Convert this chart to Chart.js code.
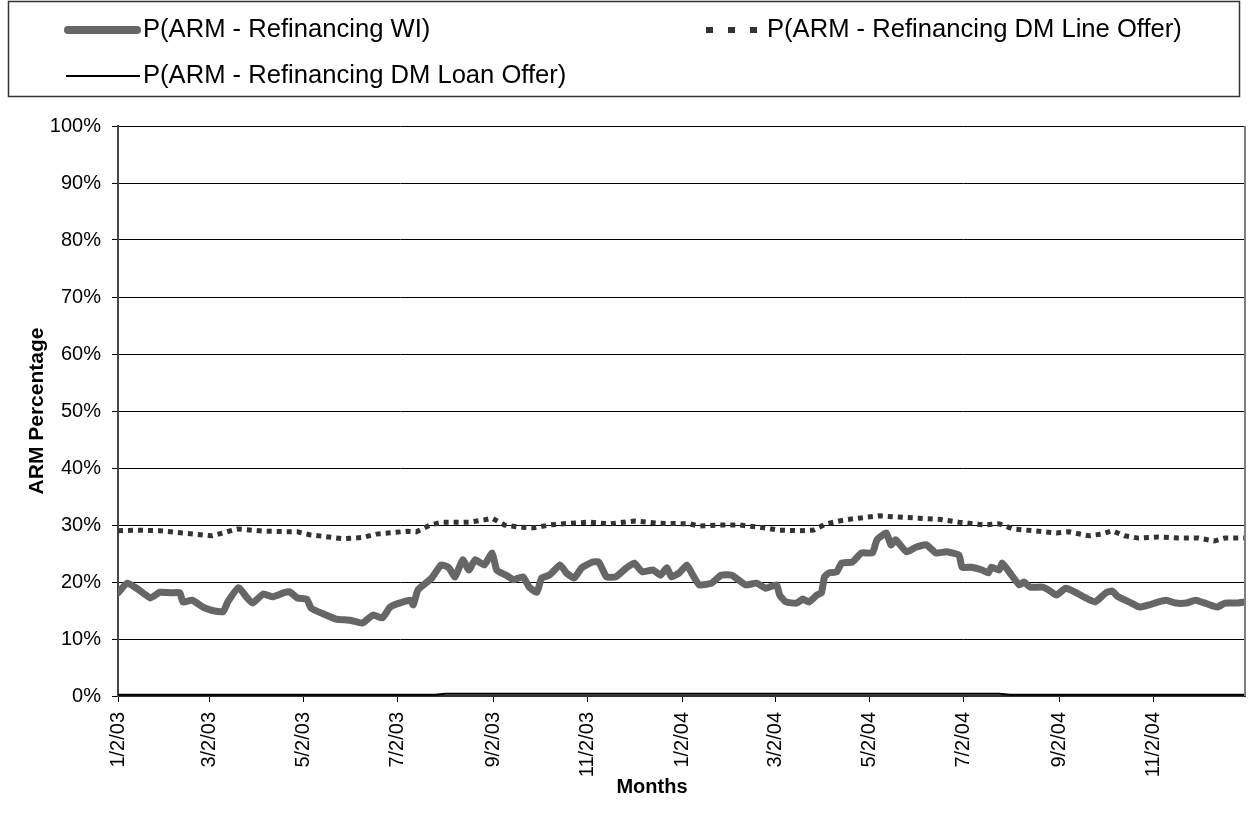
<!DOCTYPE html>
<html>
<head>
<meta charset="utf-8">
<script src="https://cdn.jsdelivr.net/npm/chart.js@4.4.0/dist/chart.umd.min.js"></script>
<style>
  html, body { margin: 0; padding: 0; background: #fff; }
  #wrap { width: 1249px; height: 827px; }
</style>
</head>
<body>
<div id="wrap"><canvas id="armChart" width="1249" height="827"></canvas></div>
<script>
// x values are days counted from 1/2/03
const tickLabels = ['1/2/03', '3/2/03', '5/2/03', '7/2/03', '9/2/03', '11/2/03',
                    '1/2/04', '3/2/04', '5/2/04', '7/2/04', '9/2/04', '11/2/04'];
const lastDate = '12/31/04';

const seriesNames = ['P(ARM - Refinancing WI)', 'P(ARM - Refinancing DM Line Offer)', 'P(ARM - Refinancing DM Loan Offer)'];

const wiDays = [0, 6, 12, 21, 27, 34, 40, 42, 48, 55, 61, 68, 71, 78, 83, 87, 94, 100, 107, 111,
  116, 122, 125, 132, 141, 150, 158, 165, 171, 176, 182, 189, 191, 194, 200, 203, 209, 214, 218, 223,
  227, 231, 237, 242, 245, 251, 256, 262, 266, 271, 274, 279, 286, 290, 295, 300, 307, 311, 316, 322,
  329, 334, 339, 346, 351, 355, 358, 363, 368, 371, 376, 384, 390, 397, 406, 413, 419, 426, 428, 432,
  439, 443, 447, 452, 455, 457, 460, 465, 468, 475, 481, 488, 491, 497, 500, 503, 510, 516, 523, 529,
  536, 544, 546, 552, 559, 563, 565, 570, 572, 578, 583, 586, 590, 598, 602, 607, 613, 620, 626, 632,
  639, 643, 647, 654, 661, 667, 673, 678, 684, 691, 697, 703, 711, 716, 723, 729];
const wiValues = [18.1, 19.8, 18.9, 17.2, 18.2, 18.1, 18.1, 16.5, 16.8, 15.6, 15.0, 14.8, 16.5, 19.0, 17.4, 16.3, 17.9, 17.4, 18.1, 18.3,
  17.2, 17.0, 15.4, 14.5, 13.5, 13.3, 12.8, 14.2, 13.7, 15.6, 16.3, 16.8, 16.0, 18.6, 20.0, 20.7, 23.0, 22.5, 20.9, 23.9,
  22.1, 23.9, 23.0, 25.1, 22.1, 21.2, 20.4, 20.9, 19.1, 18.2, 20.7, 21.2, 23.0, 21.6, 20.7, 22.5, 23.5, 23.5, 20.9, 20.9,
  22.5, 23.3, 21.8, 22.1, 21.2, 22.5, 20.9, 21.6, 23.0, 21.6, 19.5, 19.8, 21.2, 21.2, 19.5, 19.8, 18.9, 19.5, 17.7, 16.5,
  16.3, 17.0, 16.5, 17.7, 18.1, 20.9, 21.6, 21.8, 23.3, 23.5, 25.1, 25.1, 27.4, 28.6, 26.5, 27.4, 25.3, 26.1, 26.5, 25.1,
  25.3, 24.7, 22.6, 22.6, 22.1, 21.6, 22.6, 22.1, 23.3, 21.2, 19.5, 20.0, 19.1, 19.1, 18.6, 17.7, 18.9, 18.1, 17.2, 16.5,
  18.1, 18.4, 17.4, 16.5, 15.6, 16.0, 16.5, 16.8, 16.3, 16.3, 16.8, 16.3, 15.6, 16.3, 16.3, 16.5];

const lineDays = [0, 12, 27, 42, 61, 77, 96, 116, 124, 145, 158, 167, 187, 193, 202, 210, 227, 237, 242, 250,
  260, 269, 279, 292, 305, 318, 334, 350, 370, 376, 389, 402, 415, 428, 441, 450, 458, 470, 479, 492,
  505, 518, 531, 544, 554, 560, 570, 579, 592, 607, 615, 628, 636, 643, 651, 660, 673, 686, 699, 709, 716, 729];
const lineValues = [29.0, 29.1, 29.0, 28.6, 28.1, 29.3, 28.9, 28.8, 28.3, 27.6, 27.8, 28.4, 28.9, 28.8, 30.0, 30.5, 30.5, 30.9, 31.2, 30.0,
  29.6, 29.5, 30.0, 30.3, 30.5, 30.2, 30.7, 30.3, 30.2, 29.8, 30.0, 30.0, 29.6, 29.1, 29.0, 29.1, 30.2, 30.9, 31.2, 31.6,
  31.4, 31.2, 31.0, 30.5, 30.2, 30.0, 30.2, 29.3, 29.0, 28.6, 28.8, 28.1, 28.4, 29.0, 28.1, 27.7, 27.9, 27.7, 27.7, 27.2, 27.7, 27.7];

const loanDays = [0, 205, 212, 570, 577, 729];
const loanValues = [0.2, 0.2, 0.4, 0.4, 0.2, 0.2];

const FONT = "'Liberation Sans', Arial, sans-serif";
const padLeft = 25;
const padBottom = 25;

function dayOf(label) {
    const [m, d, y] = label.split('/').map(Number);
    return Math.round((Date.UTC(2000 + y, m - 1, d) - Date.UTC(2003, 0, 2)) / 86400000);
}
const tickDays = tickLabels.map(dayOf);

function toPoints(days, values) {
    return days.map((d, i) => ({ x: d, y: values[i] }));
}

// legend box above the plot, x-axis title and right frame edge
const boxLegend = {
    id: 'boxLegend',
    afterDraw(chart) {
        const ctx = chart.ctx;
        const ds = chart.data.datasets;
        ctx.save();
        ctx.strokeStyle = '#333';
        ctx.lineWidth = 1.5;
        ctx.strokeRect(8.5, 1.5, 1231, 95);

        ctx.font = '25.6px ' + FONT;
        ctx.fillStyle = '#000';
        ctx.textBaseline = 'middle';

        // item 1: thick grey line
        ctx.strokeStyle = ds[0].borderColor;
        ctx.lineWidth = 8;
        ctx.lineCap = 'round';
        ctx.beginPath(); ctx.moveTo(68, 30); ctx.lineTo(137, 30); ctx.stroke();
        ctx.fillText(ds[0].label, 143, 30);

        // item 2: square dots
        ctx.fillStyle = ds[1].borderColor;
        [706, 728, 750].forEach(x => ctx.fillRect(x, 27, 7, 6));
        ctx.fillStyle = '#000';
        ctx.fillText(ds[1].label, 767, 30);

        // item 3: thin black line
        ctx.strokeStyle = ds[2].borderColor;
        ctx.lineWidth = 2;
        ctx.lineCap = 'butt';
        ctx.beginPath(); ctx.moveTo(66, 76); ctx.lineTo(140, 76); ctx.stroke();
        ctx.fillText(ds[2].label, 143, 76);

        // x-axis title
        ctx.font = 'bold 20px ' + FONT;
        ctx.textAlign = 'center';
        ctx.fillText('Months', 652, 787);

        // right edge of plot frame
        const a = chart.chartArea;
        ctx.strokeStyle = '#808080';
        ctx.lineWidth = 2;
        ctx.beginPath(); ctx.moveTo(a.right, a.top); ctx.lineTo(a.right, a.bottom); ctx.stroke();
        ctx.restore();
    }
};

new Chart(document.getElementById('armChart'), {
    type: 'line',
    data: {
        datasets: [
            {
                label: seriesNames[0],
                data: toPoints(wiDays, wiValues),
                borderColor: '#666666',
                borderWidth: 7,
                borderCapStyle: 'round',
                borderJoinStyle: 'round',
                pointRadius: 0,
                tension: 0.15
            },
            {
                label: seriesNames[1],
                data: toPoints(lineDays, lineValues),
                borderColor: '#333333',
                borderWidth: 5,
                borderDash: [5, 5],
                pointRadius: 0,
                tension: 0
            },
            {
                label: seriesNames[2],
                data: toPoints(loanDays, loanValues),
                borderColor: '#000000',
                borderWidth: 2,
                pointRadius: 0,
                tension: 0
            }
        ]
    },
    options: {
        responsive: false,
        animation: false,
        devicePixelRatio: 1,
        layout: { padding: { top: 126, left: padLeft, right: 4, bottom: padBottom } },
        plugins: {
            legend: { display: false },
            tooltip: { enabled: false }
        },
        scales: {
            x: {
                type: 'linear',
                min: 0,
                max: dayOf(lastDate),
                afterBuildTicks: s => { s.ticks = tickDays.map(v => ({ value: v })); },
                afterFit: s => { s.height = 827 - 696 - padBottom; },
                ticks: {
                    autoSkip: false,
                    minRotation: 90,
                    maxRotation: 90,
                    padding: 10,
                    color: '#000',
                    font: { family: FONT, size: 20 },
                    callback: (v, i) => tickLabels[i]
                },
                grid: { drawOnChartArea: false, drawTicks: true, tickLength: 6, color: '#000' },
                border: { display: true, color: '#333', width: 2 }
            },
            y: {
                min: 0,
                max: 100,
                afterFit: s => { s.width = 118 - padLeft; },
                ticks: {
                    stepSize: 10,
                    padding: 11,
                    color: '#000',
                    font: { family: FONT, size: 20 },
                    callback: v => v + '%'
                },
                grid: { color: '#000', lineWidth: 1, tickLength: 6 },
                border: { display: true, color: '#444', width: 2 },
                title: {
                    display: true,
                    text: 'ARM Percentage',
                    color: '#000',
                    font: { family: FONT, size: 21, weight: 'bold' },
                    padding: { top: 0, bottom: 0 }
                }
            }
        }
    },
    plugins: [boxLegend]
});
</script>
</body>
</html>
